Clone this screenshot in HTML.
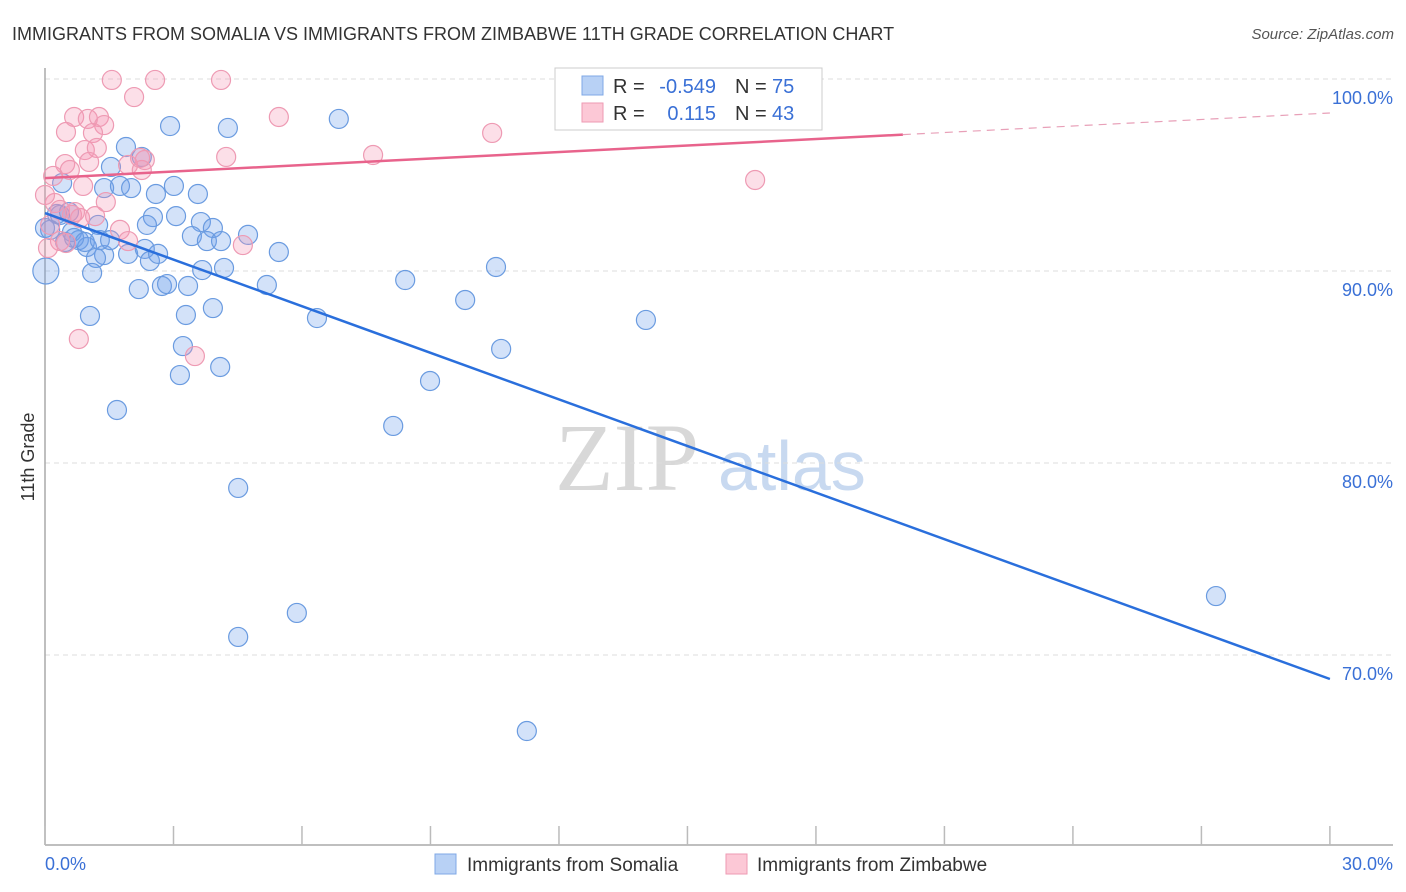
<!DOCTYPE html>
<html><head><meta charset="utf-8"><style>
body{margin:0;background:#fff;font-family:"Liberation Sans",sans-serif}
svg{display:block}
</style></head><body>
<svg id="chart" width="1406" height="892" viewBox="0 0 1406 892" xmlns="http://www.w3.org/2000/svg">
<text x="12" y="40" font-size="18" fill="#333" font-family="Liberation Sans, sans-serif">IMMIGRANTS FROM SOMALIA VS IMMIGRANTS FROM ZIMBABWE 11TH GRADE CORRELATION CHART</text>
<text x="1394" y="39" font-size="15" fill="#555" text-anchor="end" font-style="italic">Source: ZipAtlas.com</text>
<g>
<text x="555" y="490" font-size="96" fill="#d8d8d8" font-family="Liberation Serif, serif">ZIP</text>
<text x="718" y="490" font-size="70" fill="#c8d9f0">atlas</text>
</g>
<g id="grid"></g>
<g id="axes"></g>
<g id="points"></g>
<g id="trends"></g>
<text transform="translate(34,457) rotate(-90)" font-size="18" fill="#333" text-anchor="middle">11th Grade</text>
<g>
<rect x="555" y="68" width="267" height="62" fill="#fff" stroke="#ccc"/>
<rect x="582" y="76" width="21" height="19" fill="#b8d1f5" stroke="#7fa8e6"/>
<rect x="582" y="103" width="21" height="19" fill="#fcc8d6" stroke="#ee9ab3"/>
<text x="613" y="93" font-size="20" fill="#333">R = </text><text x="716" y="93" font-size="20" fill="#3a70d6" text-anchor="end">-0.549</text>
<text x="735" y="93" font-size="20" fill="#333">N = </text><text x="772" y="93" font-size="20" fill="#3a70d6">75</text>
<text x="613" y="120" font-size="20" fill="#333">R = </text><text x="716" y="120" font-size="20" fill="#3a70d6" text-anchor="end">0.115</text>
<text x="735" y="120" font-size="20" fill="#333">N = </text><text x="772" y="120" font-size="20" fill="#3a70d6">43</text>
</g>
<g>
<rect x="435" y="854" width="21" height="20" fill="#b8d1f5" stroke="#7fa8e6"/>
<text x="467" y="871" font-size="19" fill="#333">Immigrants from Somalia</text>
<rect x="726" y="854" width="21" height="20" fill="#fcc8d6" stroke="#ee9ab3"/>
<text x="757" y="871" font-size="19" fill="#333">Immigrants from Zimbabwe</text>
</g>
</svg>
<script>
const somaliaX=[2.92,4.27,6.86,1.89,2.26,1.54,0.40,1.38,1.75,2.01,2.59,3.01,3.57,2.52,3.06,3.64,2.38,3.92,4.74,3.43,3.78,4.11,0.28,0.0,0.63,0.79,0.98,0.47,1.24,1.38,1.19,1.94,2.33,2.45,2.64,1.10,2.19,2.73,3.34,2.85,3.67,4.18,5.18,5.46,3.92,3.29,1.05,6.35,8.41,9.81,10.53,14.03,3.22,3.15,4.09,10.65,8.99,1.68,8.13,4.51,5.88,4.51,11.25,27.34,0.02,0.35,0.56,0.12,0.68,0.93,1.28,1.52];
const somaliaY=[97.55,97.45,97.92,96.46,95.94,95.42,94.58,94.32,94.43,94.32,94.01,94.43,94.01,92.81,92.86,92.55,92.40,92.24,91.88,91.82,91.56,91.56,92.97,92.24,92.03,91.61,91.25,91.51,92.40,90.83,90.68,90.89,91.15,90.52,90.89,89.90,89.06,89.22,89.22,89.32,90.05,90.16,89.27,90.99,88.07,87.71,87.66,87.55,89.53,88.49,90.21,87.45,86.09,84.58,85.00,85.94,84.27,82.76,81.93,78.70,72.19,70.94,66.04,73.07,90.0,92.92,93.07,92.14,91.72,91.51,91.61,91.61];
const zimX=[1.56,2.57,4.11,2.08,5.46,0.68,1.00,1.26,1.38,0.49,1.12,10.44,0.93,1.21,4.23,7.66,0.47,1.03,2.33,1.94,2.26,0.19,0.58,16.58,0.89,1.42,0.23,0.35,0.63,1.17,0.82,1.75,1.94,4.62,0.35,0.49,0.07,0.79,3.50,0.12,0.0,0.70,2.22];
const zimY=[99.95,99.95,99.95,99.06,98.02,98.02,97.92,98.02,97.60,97.24,97.19,97.19,96.30,96.41,95.94,96.04,95.57,95.68,95.78,95.52,95.26,94.95,95.26,94.74,94.43,93.59,93.54,93.18,92.92,92.86,92.76,92.14,91.56,91.35,91.56,91.46,91.20,86.46,85.57,92.40,93.96,93.07,95.89];
const yTicks=[100,90,80,70];
const yTickLabels=["100.0%","90.0%","80.0%","70.0%"];
const xTicks=[0,3,6,9,12,15,18,21,24,27,30];
const somaliaTrend=[93.02,68.75];
const zimTrend=[94.84,98.23];
const zimSolidEnd=20.03;

const NS="http://www.w3.org/2000/svg";
const X=v=>45+v*42.83, Y=v=>79+(100-v)*19.2;
function mk(t,a,p){const e=document.createElementNS(NS,t);for(const k in a)e.setAttribute(k,a[k]);p.appendChild(e);return e;}
const grid=document.getElementById('grid'),axes=document.getElementById('axes'),pts=document.getElementById('points'),tr=document.getElementById('trends');
yTicks.forEach((v,i)=>{
 const l=mk('line',{x1:45,x2:1393,y1:Y(v),y2:Y(v),stroke:'#ddd','stroke-dasharray':'5,4'},grid);
 
 
 const t=mk('text',{x:1393,y:Y(v)+25,'font-size':18,fill:'#3a70d6','text-anchor':'end'},grid);
 t.textContent=yTickLabels[i];
 
 
});
const ya=mk('line',{x1:45,x2:45,y1:68,y2:845,stroke:'#aaa','stroke-width':1.5},axes);


const xa=mk('line',{x1:45,x2:1393,y1:845,y2:845,stroke:'#aaa','stroke-width':1.5},axes);


xTicks.forEach(v=>{const t=mk('line',{x1:X(v),x2:X(v),y1:826,y2:845,stroke:'#bbb','stroke-width':1.5},axes);
 
 });
const x0=mk('text',{x:45,y:870,'font-size':18,fill:'#3a70d6'},axes);x0.textContent='0.0%';


const x1=mk('text',{x:1393,y:870,'font-size':18,fill:'#3a70d6','text-anchor':'end'},axes);x1.textContent='30.0%';


somaliaX.forEach((v,i)=>{const big=(v<0.1&&Math.abs(somaliaY[i]-90)<0.2);
 const c=mk('circle',{cx:X(v),cy:Y(somaliaY[i]),r:big?13:9.5,fill:'rgba(110,160,235,0.3)',stroke:'#6a9be0','stroke-width':1.2},pts);
 
 });
zimX.forEach((v,i)=>{const c=mk('circle',{cx:X(v),cy:Y(zimY[i]),r:9.5,fill:'rgba(245,150,180,0.3)',stroke:'#ee9ab3','stroke-width':1.2},pts);
 
 });
const bt=mk('line',{x1:X(0),y1:Y(somaliaTrend[0]),x2:X(30),y2:Y(somaliaTrend[1]),stroke:'#2a6fdc','stroke-width':2.5},tr);


const zy=zimTrend[0]+(zimTrend[1]-zimTrend[0])*zimSolidEnd/30;
const pt=mk('line',{x1:X(0),y1:Y(zimTrend[0]),x2:X(zimSolidEnd),y2:Y(zy),stroke:'#e8638c','stroke-width':2.5},tr);


const pd=mk('line',{x1:X(zimSolidEnd),y1:Y(zy),x2:X(30),y2:Y(zimTrend[1]),stroke:'#e8a0b8','stroke-width':1.2,'stroke-dasharray':'8,6'},tr);


</script>
</body></html>
